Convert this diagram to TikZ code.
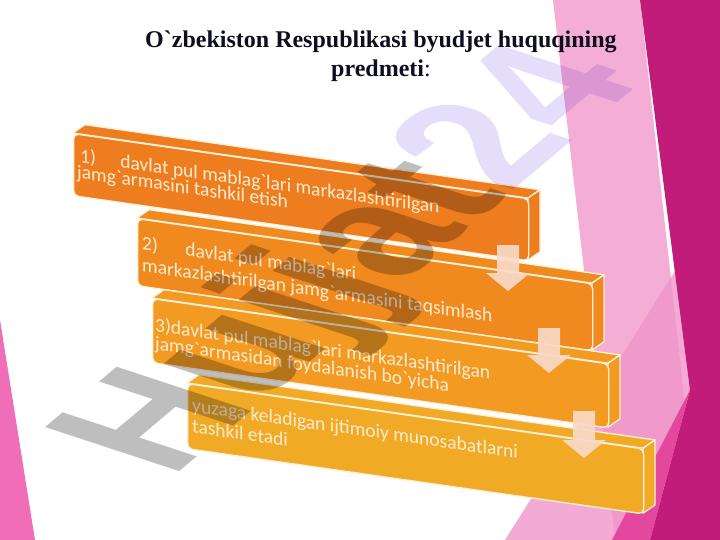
\documentclass[tikz,border=0pt]{standalone}
\usepackage{fontspec}
\setmainfont{Liberation Serif}[Ligatures=TeXOff]
\newfontfamily\boxfont{Carlito}[Ligatures=TeXOff]
\newfontfamily\wmfont{Liberation Sans}[Ligatures=TeXOff]
\usetikzlibrary{calc}
\definecolor{cream}{HTML}{FFF0D6}
\definecolor{txtcream}{HTML}{FFEBD0}
\definecolor{bxa}{HTML}{EE7D1F}
\definecolor{bxb}{HTML}{F08A1F}
\definecolor{bxc}{HTML}{F29A22}
\definecolor{bxd}{HTML}{F1AA25}
\definecolor{arrowcol}{HTML}{F8DAC8}
\definecolor{leftpink}{HTML}{F06EB8}
\definecolor{lightpink}{HTML}{F4AED6}
\definecolor{pinkb}{HTML}{F095CA}
\definecolor{magentacol}{HTML}{C21C7A}
\definecolor{hotpink}{HTML}{E4489E}
\definecolor{titlecol}{HTML}{0E0E1E}
\definecolor{wmgray}{HTML}{BEBEBE}
\definecolor{wmlav}{HTML}{E4DEFA}
\tikzset{
  boxline/.style={draw=cream, line width=1.3pt, line join=round},
  boxtext/.style={anchor=base west, inner sep=0pt, text=txtcream, font=\boxfont\fontsize{19.5}{22}\selectfont},
  downarrow/.style={fill=arrowcol, fill opacity=0.92},
}
\newcommand\blockbox[4]{% name, height, color, width
  \fill[#3, boxline] (0,0) -- (12,-10) -- (#4+12,-10) -- (#4,0) -- cycle;
  \fill[#3, boxline] (#4,0) -- (#4+12,-10) -- (#4+12,#2-10) -- (#4,#2) -- cycle;
  \node[#3, fill=#3, boxline, rounded corners=5pt, minimum width=#4 pt, minimum height=#2 pt, anchor=north west, inner sep=0pt] (#1) at (0,0) {};
}
\newcommand\darrow[4]{% name, center x, top y, tip y
  \coordinate (#1) at (#2,#3);
  \fill[downarrow] ($(#1)+(-11,0)$) -- ($(#1)+(11,0)$) -- ($(#1)+(11,#4-#3-18)$) -- ($(#1)+(22,#4-#3-18)$) -- ($(#1)+(0,#4-#3)$) -- ($(#1)+(-22,#4-#3-18)$) -- ($(#1)+(-11,#4-#3-18)$) -- cycle;
}
\begin{document}
\begin{tikzpicture}[x=1pt,y=-1pt]
\useasboundingbox (0,0) rectangle (720,540);
\fill[white] (0,0) rectangle (720,540);
% decoration
\fill[leftpink] (0,320) -- (35,540) -- (0,540) -- cycle;
\fill[lightpink] (553,0) -- (640,0) -- (700,540) -- (615,540) -- cycle;
\fill[pinkb, fill opacity=0.8] (505,540) -- (720,200) -- (720,540) -- cycle;
\fill[magentacol] (640,0) -- (720,0) -- (720,540) -- (650,540) -- (690,390) -- cycle;
\fill[hotpink] (690,390) -- (650,540) -- (612,540) -- cycle;
% title
\node[anchor=base, inner sep=0pt, text=titlecol, font=\bfseries\fontsize{24}{29}\selectfont] (title1) at (381,48) {O`zbekiston Respublikasi byudjet huquqining};
\node[anchor=base, inner sep=0pt, text=titlecol, font=\fontsize{24}{29}\selectfont] (title2) at (381,77) {\textbf{predmeti}:};
% boxes
\begin{scope}[shift={(73,133)}, yslant=-0.143, transform shape]
  \blockbox{b1}{62}{bxa}{455}
  \node[boxtext] (t1a) at (7,28) {1)\hspace{1.25em}davlat pul mablag`lari markazlashtirilgan};
  \node[boxtext] (t1b) at (4,44.5) {jamg`armasini tashkil etish};
\end{scope}
\begin{scope}[shift={(137,218)}, yslant=-0.143, transform shape]
  \blockbox{b2}{67}{bxb}{455}
  \node[boxtext] (t2a) at (5,31) {2)\hspace{1.4em}davlat pul mablag`lari};
  \node[boxtext] (t2b) at (5,53) {markazlashtirilgan jamg`armasini taqsimlash};
\end{scope}
\begin{scope}[shift={(152,298)}, yslant=-0.143, transform shape]
  \blockbox{b3}{64}{bxc}{456}
  \node[boxtext] (t3a) at (3,33) {3)davlat pul mablag`lari markazlashtirilgan};
  \node[boxtext] (t3b) at (3,51) {jamg`armasidan foydalanish bo`yicha};
\end{scope}
\begin{scope}[shift={(187,383)}, yslant=-0.143, transform shape]
  \blockbox{b4}{65}{bxd}{456}
  \node[boxtext] (t4a) at (5,28) {yuzaga keladigan ijtimoiy munosabatlarni};
  \node[boxtext] (t4b) at (5,49) {tashkil etadi};
\end{scope}
% arrows
\darrow{a1}{508}{245}{291}
\darrow{a2}{549}{328}{373}
\darrow{a3}{584}{411}{458}
% watermark
\begin{scope}[shift={(358,262)}, xscale=1.9, transform shape, blend mode=multiply]
  \node[rotate=58, inner sep=0pt, font=\wmfont\bfseries\fontsize{121}{121}\selectfont] (wm) at (0,0) {\textcolor{wmgray}{Hujjat}\textcolor{wmlav}{24}};
\end{scope}
\end{tikzpicture}
\end{document}
